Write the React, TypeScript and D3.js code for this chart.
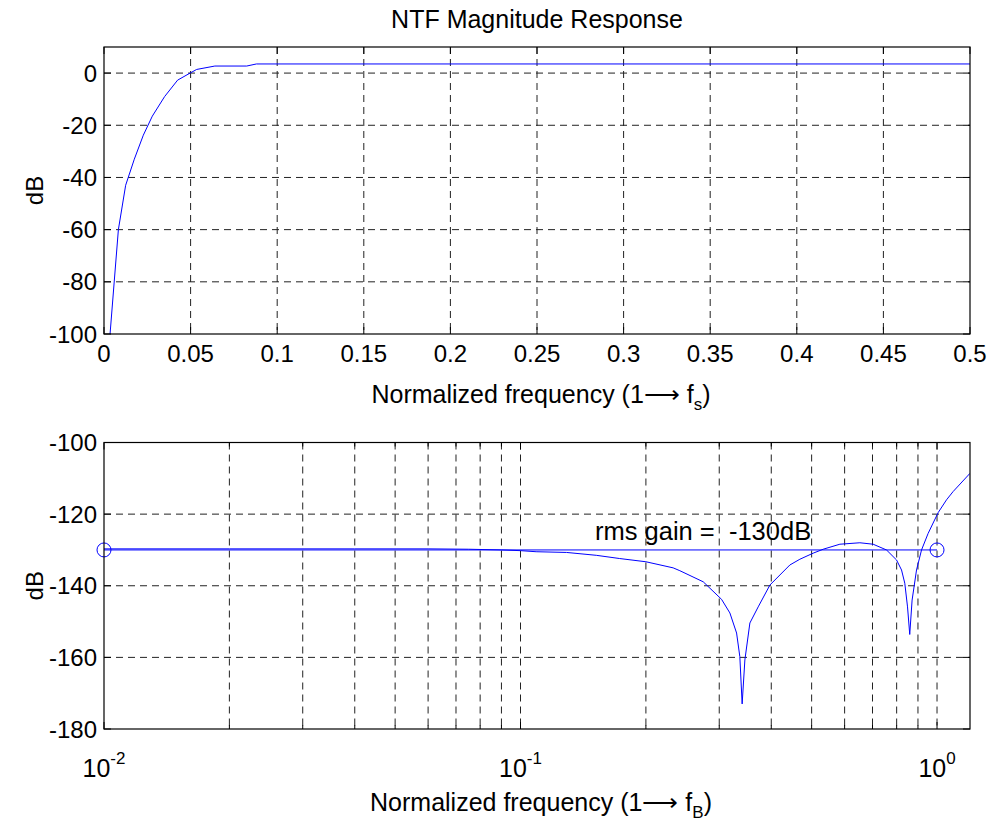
import React from "react";
import * as d3 from "d3";

// Upper panel: NTF magnitude vs normalized frequency (linear axis)
const topFreq = [0.0015, 0.0035, 0.0083, 0.0125, 0.0175, 0.0227, 0.0279, 0.035, 0.0425, 0.0497, 0.0535, 0.064, 0.0824, 0.088, 0.5];
const topDb = [-105, -100, -60, -43, -33, -23.8, -16.5, -9, -2.7, 0, 1.4, 2.7, 2.7, 3.5, 3.5];
const topXTicks = [0, 0.05, 0.1, 0.15, 0.2, 0.25, 0.3, 0.35, 0.4, 0.45, 0.5];
const topXLabels = ["0", "0.05", "0.1", "0.15", "0.2", "0.25", "0.3", "0.35", "0.4", "0.45", "0.5"];
const topYTicks = [-100, -80, -60, -40, -20, 0];

// Lower panel: in-band detail on a log frequency axis
const bottomFreq = [0.01, 0.02, 0.04, 0.06, 0.075, 0.09, 0.1, 0.109, 0.129, 0.152, 0.173, 0.2, 0.2325, 0.2413, 0.2746, 0.3039, 0.3182, 0.3302, 0.3362, 0.3405, 0.3457, 0.3554, 0.3721, 0.397, 0.4195, 0.4433, 0.4685, 0.5043, 0.533, 0.5845, 0.6528, 0.7024, 0.7563, 0.7995, 0.8219, 0.8368, 0.8495, 0.86, 0.8713, 0.8929, 0.918, 0.9519, 1.006, 1.054, 1.093, 1.2];
const bottomDb = [-129.7, -129.7, -129.7, -129.7, -129.8, -130.0, -130.2, -130.5, -130.7, -131.5, -132.4, -133.3, -135, -135.8, -138.9, -143.8, -147.6, -153.2, -159.8, -173, -160.7, -150.4, -145.9, -139.8, -137, -134.2, -132.6, -130.9, -129.8, -128.4, -128, -128.4, -130, -132.8, -135.6, -139.3, -145.9, -153.6, -144, -135.6, -130, -125.4, -119.6, -116, -113.7, -108.6];
const bottomYTicks = [-180, -160, -140, -120, -100];
const decadeTicks = [0.01, 0.1, 1];
const decadeExponents = ["-2", "-1", "0"];
const rmsGainDb = -130;
const rmsBand = [0.01, 1];

const FONT = "'Liberation Sans', Arial, Helvetica, sans-serif";
const BLUE = "#0000ff";
const GRID = { stroke: "#222", strokeWidth: 1, strokeDasharray: "7,5" };
const TICK = 7;
const FS = 24;

const L = 104, R = 970;
const top1 = 47, bot1 = 334;
const top2 = 442.5, bot2 = 729;

export default function App() {
  const x1 = d3.scaleLinear().domain([0, 0.5]).range([L, R]);
  const y1 = d3.scaleLinear().domain([-100, 10]).range([bot1, top1]);
  const x2 = d3.scaleLog().domain([0.01, 1.2]).range([L, R]);
  const y2 = d3.scaleLinear().domain([-180, -100]).range([bot2, top2]);

  const line1 = d3.line<number>().x((_, i) => x1(topFreq[i])).y((d) => y1(d));
  const line2 = d3.line<number>().x((_, i) => x2(bottomFreq[i])).y((d) => y2(d));
  const logTicks = x2.ticks();

  return (
    <svg width={993} height={824} style={{ position: "absolute", left: 0, top: 0, background: "#fff" }} fontFamily={FONT}>
      <defs>
        <clipPath id="clipTop"><rect x={L} y={top1} width={R - L} height={bot1 - top1} /></clipPath>
        <clipPath id="clipBot"><rect x={L} y={top2} width={R - L} height={bot2 - top2} /></clipPath>
      </defs>
      <rect x={0} y={0} width={993} height={824} fill="#fff" />

      {/* ---------- upper panel ---------- */}
      <text x={(L + R) / 2} y={28} textAnchor="middle" fontSize={25}>NTF Magnitude Response</text>
      {topXTicks.slice(1, -1).map((t) => (
        <line key={"gx" + t} x1={x1(t)} x2={x1(t)} y1={top1} y2={bot1} {...GRID} />
      ))}
      {topYTicks.slice(1).map((t) => (
        <line key={"gy" + t} x1={L} x2={R} y1={y1(t)} y2={y1(t)} {...GRID} />
      ))}
      <path d={line1(topDb) || ""} fill="none" stroke={BLUE} strokeWidth={1} clipPath="url(#clipTop)" />
      <rect x={L} y={top1} width={R - L} height={bot1 - top1} fill="none" stroke="#000" strokeWidth={1.2} />
      {topXTicks.map((t) => (
        <g key={"tx" + t}>
          <line x1={x1(t)} x2={x1(t)} y1={bot1} y2={bot1 - TICK} stroke="#000" />
          <line x1={x1(t)} x2={x1(t)} y1={top1} y2={top1 + TICK} stroke="#000" />
        </g>
      ))}
      {topYTicks.map((t) => (
        <g key={"ty" + t}>
          <line x1={L} x2={L + TICK} y1={y1(t)} y2={y1(t)} stroke="#000" />
          <line x1={R} x2={R - TICK} y1={y1(t)} y2={y1(t)} stroke="#000" />
          <text x={97} y={y1(t)} dy="0.36em" textAnchor="end" fontSize={FS}>{t}</text>
        </g>
      ))}
      {topXTicks.map((t, i) => (
        <text key={"lx" + t} x={x1(t)} y={362} textAnchor="middle" fontSize={FS}>{topXLabels[i]}</text>
      ))}
      <text x={(L + R) / 2 + 4} y={403} textAnchor="middle" fontSize={25}>
        Normalized frequency (1⟶ f<tspan fontSize={17} dy={7}>s</tspan><tspan dy={-7}>)</tspan>
      </text>
      <text transform={`translate(43,${(top1 + bot1) / 2}) rotate(-90)`} textAnchor="middle" fontSize={FS}>dB</text>

      {/* ---------- lower panel ---------- */}
      {logTicks.filter((t) => t > 0.01).map((t) => (
        <line key={"gx2" + t} x1={x2(t)} x2={x2(t)} y1={top2} y2={bot2} {...GRID} />
      ))}
      {bottomYTicks.slice(1, -1).map((t) => (
        <line key={"gy2" + t} x1={L} x2={R} y1={y2(t)} y2={y2(t)} {...GRID} />
      ))}
      <path d={line2(bottomDb) || ""} fill="none" stroke={BLUE} strokeWidth={1} clipPath="url(#clipBot)" />
      <line x1={x2(rmsBand[0])} x2={x2(rmsBand[1])} y1={y2(rmsGainDb)} y2={y2(rmsGainDb)} stroke={BLUE} strokeWidth={1} />
      {rmsBand.map((f) => (
        <circle key={"c" + f} cx={x2(f)} cy={y2(rmsGainDb)} r={7} fill="none" stroke={BLUE} strokeWidth={1} />
      ))}
      <text x={595} y={y2(rmsGainDb) - 10} textAnchor="start" fontSize={25.5} style={{ whiteSpace: "pre" }}>{`rms gain =  ${rmsGainDb}dB`}</text>
      <rect x={L} y={top2} width={R - L} height={bot2 - top2} fill="none" stroke="#000" strokeWidth={1.2} />
      {logTicks.map((t) => {
        const major = decadeTicks.some((d) => Math.abs(d - t) < 1e-9);
        const len = major ? TICK : 4;
        return (
          <g key={"tx2" + t}>
            <line x1={x2(t)} x2={x2(t)} y1={bot2} y2={bot2 - len} stroke="#000" />
            <line x1={x2(t)} x2={x2(t)} y1={top2} y2={top2 + len} stroke="#000" />
          </g>
        );
      })}
      {bottomYTicks.map((t) => (
        <g key={"ty2" + t}>
          <line x1={L} x2={L + TICK} y1={y2(t)} y2={y2(t)} stroke="#000" />
          <line x1={R} x2={R - TICK} y1={y2(t)} y2={y2(t)} stroke="#000" />
          <text x={97} y={y2(t)} dy="0.36em" textAnchor="end" fontSize={FS}>{t}</text>
        </g>
      ))}
      {decadeTicks.map((t, i) => (
        <text key={"lx2" + t} x={x2(t)} y={777} textAnchor="middle" fontSize={25}>
          10<tspan fontSize={17} dy={-13}>{decadeExponents[i]}</tspan>
        </text>
      ))}
      <text x={(L + R) / 2 + 4} y={811} textAnchor="middle" fontSize={25}>
        Normalized frequency (1⟶ f<tspan fontSize={17} dy={7}>B</tspan><tspan dy={-7}>)</tspan>
      </text>
      <text transform={`translate(43,${(top2 + bot2) / 2}) rotate(-90)`} textAnchor="middle" fontSize={FS}>dB</text>
    </svg>
  );
}
